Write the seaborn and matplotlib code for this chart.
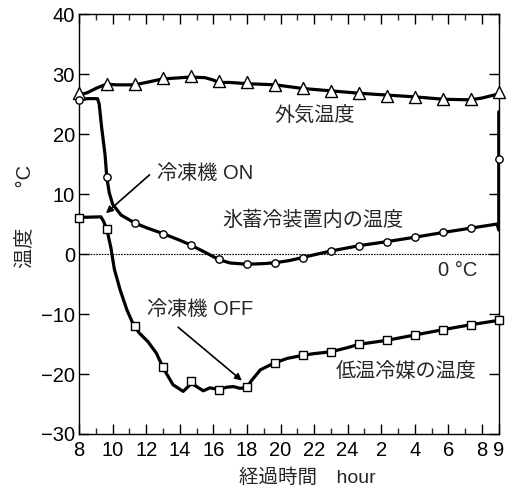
import matplotlib
matplotlib.use("Agg")
import matplotlib.pyplot as plt
import seaborn as sns
import pandas as pd

sns.set_theme(style="white")
plt.rcParams['font.family'] = ['Liberation Sans', 'Noto Sans CJK JP', 'DejaVu Sans']
plt.rcParams['axes.unicode_minus'] = True

# ---- data (hours elapsed from 8:00 of day 1 = 8 ... 9:00 next day = 33) ----
marker_hours = [8.0, 9.67, 11.33, 13.0, 14.67, 16.33, 18.0, 19.67, 21.33, 23.0,
                24.67, 26.33, 28.0, 29.67, 31.33, 33.0]

# outside air temperature
air_line_h = [8.0, 8.5, 9.0, 9.6, 10.3, 11.3, 12.0, 13.0, 13.6, 14.6, 15.5, 16.0,
              16.3, 17.0, 18.0, 19.7, 21.3, 23.0, 24.7, 26.3, 28.0, 29.7, 31.3, 32.0, 33.0]
air_line_v = [26.5, 26.9, 27.6, 28.3, 28.2, 28.2, 28.6, 29.2, 29.3, 29.5, 29.4, 29.0,
              28.6, 28.6, 28.4, 28.2, 27.6, 27.2, 26.8, 26.5, 26.2, 25.8, 25.7, 26.0, 26.7]
air_mark_v = [26.8, 28.4, 28.4, 29.3, 29.6, 28.8, 28.7, 28.2, 27.6, 27.2,
              26.8, 26.4, 26.1, 25.8, 25.8, 27.0]

# temperature inside ice storage unit
ice_line_h = [8.0, 8.5, 9.1, 9.2, 9.35, 9.55, 9.65, 9.8, 10.0, 10.5, 11.3, 12.0, 13.0,
              14.0, 14.65, 15.5, 16.3, 17.0, 18.0, 19.0, 19.7, 20.5, 21.3, 22.2, 23.0,
              24.7, 26.3, 28.0, 29.7, 31.3, 32.9, 33.0, 33.0]
ice_line_v = [25.7, 25.9, 25.9, 25.0, 21.0, 16.5, 12.8, 10.2, 8.3, 6.5, 5.2, 4.4, 3.4,
              2.3, 1.5, 0.3, -0.9, -1.5, -1.7, -1.6, -1.45, -1.1, -0.6, 0.0, 0.5,
              1.4, 2.05, 2.8, 3.6, 4.3, 5.0, 4.0, 23.7]
ice_mark_v = [25.7, 12.9, 5.2, 3.4, 1.55, -0.9, -1.6, -1.45, -0.6, 0.5,
              1.4, 2.05, 2.8, 3.6, 4.3, 15.8]

# low-temperature refrigerant
ref_line_h = [8.0, 9.3, 9.45, 9.65, 9.9, 10.1, 10.45, 10.85, 11.27, 11.6, 12.1, 12.6,
              13.0, 13.2, 13.6, 14.2, 14.5, 14.7, 15.0, 15.4, 15.8, 16.3, 16.8, 17.2,
              17.6, 18.0, 18.3, 18.8, 19.6, 20.4, 21.3, 22.0, 23.0, 24.0, 24.67,
              26.3, 28.0, 29.7, 31.3, 33.0]
ref_line_v = [6.1, 6.2, 5.5, 4.2, 1.0, -2.5, -6.0, -9.3, -12.0, -13.2, -14.6, -16.5,
              -18.9, -19.9, -21.8, -22.9, -22.1, -21.5, -22.1, -22.8, -22.3, -22.6, -22.2, -22.1,
              -22.4, -22.2, -21.0, -19.3, -18.2, -17.4, -16.9, -16.6, -16.3, -15.6, -15.05,
              -14.4, -13.5, -12.6, -11.8, -11.05]
ref_mark_v = [6.05, 4.2, -11.95, -18.9, -21.2, -22.6, -22.2, -18.2, -16.9, -16.3,
              -15.05, -14.4, -13.5, -12.6, -11.8, -11.05]

xtick_pos = [8, 10, 12, 14, 16, 18, 20, 22, 24, 26, 28, 30, 32, 33]
xtick_lab = ["8", "10", "12", "14", "16", "18", "20", "22", "24", "2", "4", "6", "8", "9"]
ytick_pos = [-30, -20, -10, 0, 10, 20, 30, 40]

# ---- figure ----
fig = plt.figure(figsize=(5.1, 4.9), dpi=100)
ax = fig.add_axes([0.155, 0.1143, 0.823, 0.857])

lw = 2.3
for h, v in [(air_line_h, air_line_v), (ice_line_h, ice_line_v), (ref_line_h, ref_line_v)]:
    sns.lineplot(x=h, y=v, ax=ax, sort=False, estimator=None, color="black",
                 linewidth=lw, legend=False)

ax.axhline(0, color="black", linewidth=0.8, linestyle=(0, (1.5, 1.0)), zorder=1)

sns.scatterplot(x=marker_hours, y=air_mark_v, ax=ax, marker="^", s=75,
                facecolor="white", edgecolor="black", linewidth=1.0, zorder=5, clip_on=False)
sns.scatterplot(x=marker_hours, y=ice_mark_v, ax=ax, marker="o", s=28,
                facecolor="white", edgecolor="black", linewidth=1.0, zorder=5, clip_on=False)
sns.scatterplot(x=marker_hours, y=ref_mark_v, ax=ax, marker="s", s=32,
                facecolor="white", edgecolor="black", linewidth=1.0, zorder=5, clip_on=False)

ax.set_xlim(8, 33)
ax.set_ylim(-30, 40)
ax.set_xticks(xtick_pos)
ax.set_xticklabels(xtick_lab)
ax.set_xticks(list(range(9, 33, 2)), minor=True)
ax.set_yticks(ytick_pos)
ax.set_yticklabels([str(t).replace("-", "\u2212") for t in ytick_pos])

for s in ax.spines.values():
    s.set_color("black")
    s.set_linewidth(1.0)
ax.tick_params(axis="both", which="major", direction="in", length=7, width=1.0,
               top=True, right=True, bottom=True, left=True, labelsize=14.5, colors="black", pad=3)
ax.tick_params(axis="x", which="minor", direction="in", length=4, width=1.0,
               top=True, bottom=True)
ax.tick_params(axis="x", which="major", pad=5)

fig.text(0.602, 0.0245, "経過時間　hour", fontsize=14, ha="center", va="center")
fig.text(0.049, 0.559, "温度　　°C", fontsize=14.5, ha="center", va="center", rotation=90)

fs = 14.5
ax.text(22.05, 23.2, "外気温度", fontsize=fs, ha="center", va="center")
ax.text(15.5, 13.5, "冷凍機 ON", fontsize=fs, ha="center", va="center")
ax.text(21.9, 5.7, "氷蓄冷装置内の温度", fontsize=fs, ha="center", va="center")
ax.text(31.75, -2.7, "0 °C", fontsize=fs, ha="right", va="center")
ax.text(15.2, -9.3, "冷凍機 OFF", fontsize=fs, ha="center", va="center")
ax.text(27.5, -19.6, "低温冷媒の温度", fontsize=fs, ha="center", va="center")

ax.annotate("", xy=(9.6, 6.8), xytext=(12.2, 13.2),
            arrowprops=dict(arrowstyle="-|>", color="black", lw=1.2, mutation_scale=10,
                            shrinkA=0, shrinkB=0))
ax.annotate("", xy=(17.7, -21.1), xytext=(13.9, -12.2),
            arrowprops=dict(arrowstyle="-|>", color="black", lw=1.2, mutation_scale=10,
                            shrinkA=0, shrinkB=0))

fig.savefig("out.png", dpi=100)
